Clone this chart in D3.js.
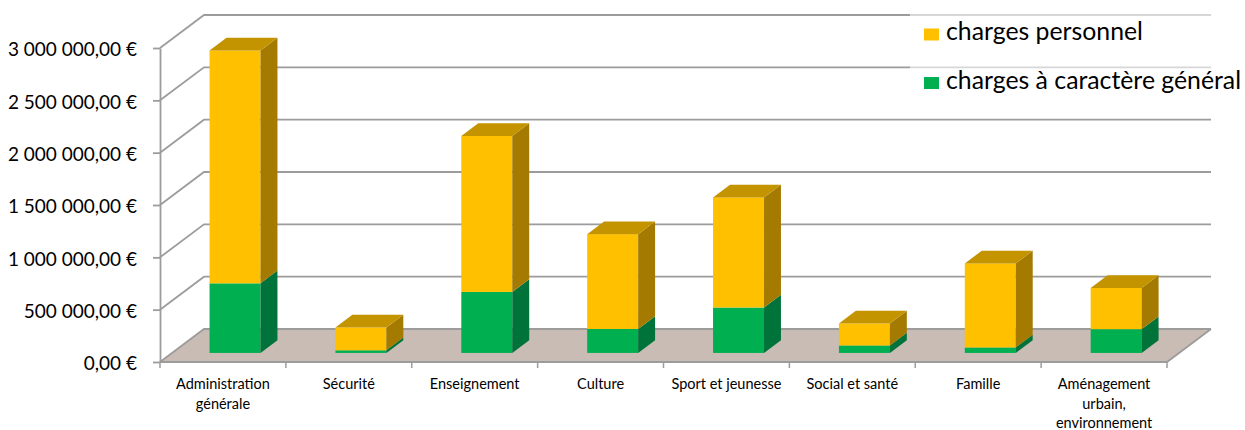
<!DOCTYPE html>
<html lang="fr">
<head>
<meta charset="utf-8">
<title>Charges par fonction</title>
<script src="https://cdn.jsdelivr.net/npm/d3@7"></script>
<style>
  html, body { margin: 0; padding: 0; background: #fff; }
  svg { display: block; font-family: Lato, "Open Sans", sans-serif; }
</style>
</head>
<body>
<svg id="chart" width="1245" height="430"></svg>
<script>
// Categories (functions) and the two stacked series, in euros
const categories = [
  "Administration générale",
  "Sécurité",
  "Enseignement",
  "Culture",
  "Sport et jeunesse",
  "Social et santé",
  "Famille",
  "Aménagement urbain, environnement"
];
const chargesGenerales = [665000, 25000, 583000, 229000, 434000, 71000, 52000, 227000];
const chargesPersonnel = [2225000, 218000, 1490000, 906000, 1052000, 210000, 803000, 394000];
const seriesNames = ["charges personnel", "charges à caractère général"];
const yTicks = [0, 500000, 1000000, 1500000, 2000000, 2500000, 3000000];

const svg = d3.select("#chart");

// Oblique 3D frame: front axis plane, depth vector toward the back wall
const frontLeft = 160, frontRight = 1167;
const depthX = 44, depthY = -33;
const barDepthStart = 0.275, barDepthEnd = 0.66;

const y = d3.scaleLinear().domain([0, 3000000]).range([362, 48]);
const x = d3.scaleBand().domain(categories).range([frontLeft, frontRight]).padding(0);
const bw = x.bandwidth();
const barW = bw * 0.405;

const gridColor = "#9c9c9c";
const colors = {
  personnel: { front: "#FFC000", side: "#A47A00", top: "#C49300" },
  general:   { front: "#00B050", side: "#00733A", top: "#008A40" }
};

const locale = d3.formatLocale({ decimal: ",", thousands: "\u00a0", grouping: [3], currency: ["", " €"] });
const fmt = v => locale.format(",.2f")(v).replace(/\u00a0/g, " ") + " €";

// Floor
const y0 = y(0);
svg.append("polygon")
  .attr("points", [
    [frontLeft, y0], [frontLeft + depthX, y0 + depthY],
    [frontRight + depthX, y0 + depthY], [frontRight, y0]
  ].map(p => p.join(",")).join(" "))
  .attr("fill", "#C9BCB4");

// Side wall diagonals and back wall gridlines
const grid = svg.append("g").attr("fill", "none").attr("stroke", gridColor).attr("stroke-width", 1.8);
grid.selectAll("polyline").data(yTicks).join("polyline")
  .attr("points", d => [
    [frontLeft, y(d)], [frontLeft + depthX, y(d) + depthY], [frontRight + depthX, y(d) + depthY]
  ].map(p => p.join(",")).join(" "));
// Floor front and right edges
grid.append("polyline")
  .attr("points", [[frontLeft, y0], [frontRight, y0], [frontRight + depthX, y0 + depthY]].map(p => p.join(",")).join(" "));

// Left value axis
const yAxis = svg.append("g")
  .attr("transform", `translate(${frontLeft},0)`)
  .call(d3.axisLeft(y).tickValues(yTicks).tickSize(7).tickSizeOuter(0).tickPadding(16).tickFormat(fmt));
yAxis.select(".domain").attr("stroke", gridColor).attr("stroke-width", 1.8);
yAxis.selectAll(".tick line").attr("stroke", gridColor).attr("stroke-width", 1.8);
yAxis.selectAll(".tick text")
  .attr("font-size", 19).attr("fill", "#000").attr("font-family", "Lato").attr("dy", "0.42em");

// Category tick marks at band boundaries
const boundaries = categories.map(c => x(c)).concat([frontRight]);
svg.append("g").selectAll("line").data(boundaries).join("line")
  .attr("x1", d => d).attr("x2", d => d)
  .attr("y1", y0).attr("y2", y0 + 6)
  .attr("stroke", gridColor).attr("stroke-width", 1.5);

// Category labels, wrapped under each band
const xAxis = svg.append("g")
  .attr("transform", `translate(0,${y0})`)
  .call(d3.axisBottom(x).tickSize(0).tickPadding(0));
xAxis.select(".domain").remove();
xAxis.selectAll(".tick text").each(function(d) {
  const t = d3.select(this);
  t.text(null).attr("font-size", 14.5).attr("fill", "#000").attr("font-family", "Lato").attr("dy", null).attr("y", 0);
  const words = d.split(" ");
  const lines = [];
  let line = [];
  const probe = t.append("tspan");
  words.forEach(w => {
    const trial = line.concat([w]).join(" ");
    probe.text(trial);
    if (line.length && probe.node().getComputedTextLength() > 118) {
      lines.push(line.join(" "));
      line = [w];
    } else {
      line.push(w);
    }
  });
  lines.push(line.join(" "));
  probe.remove();
  lines.forEach((l, i) => {
    t.append("tspan").attr("x", 0).attr("y", 27 + i * 19.5).text(l);
  });
});

// Stacked 3D bars
const fx = barDepthStart * depthX, fy = barDepthStart * depthY;
const ddx = (barDepthEnd - barDepthStart) * depthX, ddy = (barDepthEnd - barDepthStart) * depthY;
const segments = [];
categories.forEach((c, i) => {
  const g = chargesGenerales[i], p = chargesPersonnel[i];
  segments.push({ c, v0: 0, v1: g, col: colors.general, showTop: false });
  segments.push({ c, v0: g, v1: g + p, col: colors.personnel, showTop: true });
});
const bars = svg.append("g");
const seg = bars.selectAll("g").data(segments).join("g");
const xl = d => x(d.c) + (bw - barW) / 2 + fx;
const yt = d => y(d.v1) + fy;
const yb = d => y(d.v0) + fy;
seg.append("rect")
  .attr("x", xl).attr("y", yt).attr("width", barW).attr("height", d => yb(d) - yt(d))
  .attr("fill", d => d.col.front);
seg.append("polygon")
  .attr("points", d => {
    const xr = xl(d) + barW;
    return [[xr, yt(d)], [xr + ddx, yt(d) + ddy], [xr + ddx, yb(d) + ddy], [xr, yb(d)]].map(p => p.join(",")).join(" ");
  })
  .attr("fill", d => d.col.side);
seg.filter(d => d.showTop).append("polygon")
  .attr("points", d => {
    const a = xl(d), t = yt(d);
    return [[a, t], [a + ddx, t + ddy], [a + barW + ddx, t + ddy], [a + barW, t]].map(p => p.join(",")).join(" ");
  })
  .attr("fill", d => d.col.top);

// Legend on a translucent white panel
const legend = svg.append("g");
legend.append("rect").attr("x", 910).attr("y", 2).attr("width", 335).attr("height", 98)
  .attr("fill", "#fff").attr("fill-opacity", 0.6);
const legendItems = [
  { name: seriesNames[0], color: colors.personnel.front, y: 40 },
  { name: seriesNames[1], color: colors.general.front, y: 88.5 }
];
const li = legend.selectAll("g.item").data(legendItems).join("g").attr("class", "item");
li.append("rect").attr("x", 924).attr("y", d => d.y - 11.5).attr("width", 15).attr("height", 12)
  .attr("fill", d => d.color);
li.append("text").attr("x", 946).attr("y", d => d.y).attr("font-size", 24.8).attr("fill", "#000")
  .text(d => d.name);
</script>
</body>
</html>
